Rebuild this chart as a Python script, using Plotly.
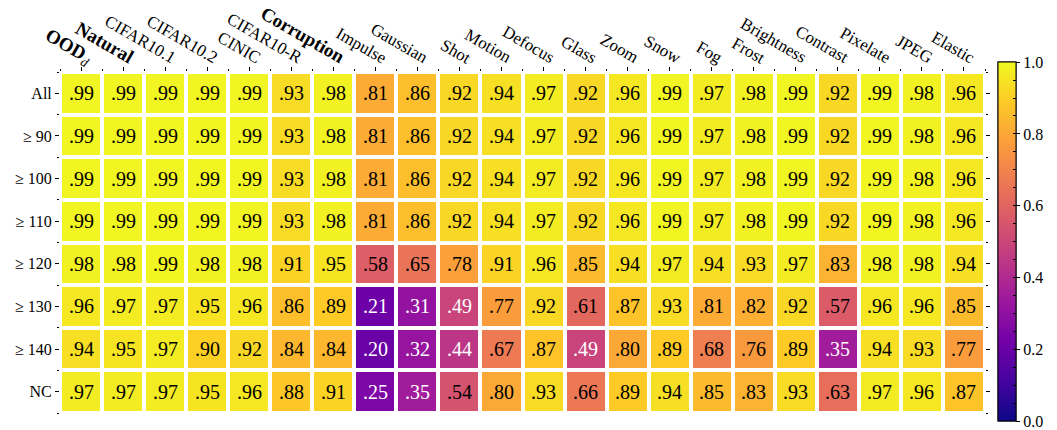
import plotly.graph_objects as go

# Column (dataset) labels and row (threshold) labels
columns = ["<b>OOD</b><sub><i>d</i></sub>", "<b>Natural</b>", "CIFAR10.1", "CIFAR10.2", "CINIC",
           "CIFAR10-R", "<b>Corruption</b>", "Impulse", "Gaussian", "Shot", "Motion",
           "Defocus", "Glass", "Zoom", "Snow", "Fog", "Frost", "Brightness",
           "Contrast", "Pixelate", "JPEG", "Elastic"]
rows = ["All", "≥ 90", "≥ 100", "≥ 110", "≥ 120", "≥ 130", "≥ 140", "NC"]

row_all = [.99, .99, .99, .99, .99, .93, .98, .81, .86, .92, .94, .97, .92, .96, .99, .97, .98, .99, .92, .99, .98, .96]
row_90 = [.99, .99, .99, .99, .99, .93, .98, .81, .86, .92, .94, .97, .92, .96, .99, .97, .98, .99, .92, .99, .98, .96]
row_100 = [.99, .99, .99, .99, .99, .93, .98, .81, .86, .92, .94, .97, .92, .96, .99, .97, .98, .99, .92, .99, .98, .96]
row_110 = [.99, .99, .99, .99, .99, .93, .98, .81, .86, .92, .94, .97, .92, .96, .99, .97, .98, .99, .92, .99, .98, .96]
row_120 = [.98, .98, .99, .98, .98, .91, .95, .58, .65, .78, .91, .96, .85, .94, .97, .94, .93, .97, .83, .98, .98, .94]
row_130 = [.96, .97, .97, .95, .96, .86, .89, .21, .31, .49, .77, .92, .61, .87, .93, .81, .82, .92, .57, .96, .96, .85]
row_140 = [.94, .95, .97, .90, .92, .84, .84, .20, .32, .44, .67, .87, .49, .80, .89, .68, .76, .89, .35, .94, .93, .77]
row_nc = [.97, .97, .97, .95, .96, .88, .91, .25, .35, .54, .80, .93, .66, .89, .94, .85, .83, .93, .63, .97, .96, .87]

z = [row_all, row_90, row_100, row_110, row_120, row_130, row_140, row_nc]

cbar_ticks = [0.0, 0.2, 0.4, 0.6, 0.8, 1.0]
cbar_labels = ["0.0", "0.2", "0.4", "0.6", "0.8", "1.0"]

FONT = "Liberation Serif"
nx, ny = len(columns), len(rows)
xs = list(range(nx))
ys = list(range(ny))

cbar_geom = dict(
    x=1.0145, xanchor="left", xpad=0,
    y=1.029, yanchor="top", ypad=0,
    len=359, lenmode="pixels",
    thickness=18, thicknessmode="pixels",
    outlinecolor="black", outlinewidth=1,
)

fig = go.Figure()
fig.add_trace(go.Heatmap(
    z=z, x=xs, y=ys,
    colorscale="Plasma", zmin=0, zmax=1,
    xgap=4, ygap=4,
    hoverinfo="skip",
    colorbar=dict(
        **cbar_geom,
        tickmode="array", tickvals=cbar_ticks, ticktext=cbar_labels,
        ticks="outside", ticklen=4, tickcolor="black",
        ticklabeloverflow="allow",
        tickfont=dict(family=FONT, size=16, color="black"),
    ),
))

# Second, unlabeled scale on top of the first to carry the fine inner ticks
fig.add_trace(go.Scatter(
    x=[None, None], y=[None, None], mode="markers", hoverinfo="skip",
    showlegend=False,
    marker=dict(color=[0, 1], colorscale="Plasma", cmin=0, cmax=1, showscale=True,
                colorbar=dict(**cbar_geom, tickmode="linear", tick0=0, dtick=0.05,
                              ticks="inside", ticklen=3, tickcolor="black",
                              showticklabels=False)),
))

# Cell value labels
for i, r in enumerate(z):
    for j, v in enumerate(r):
        fig.add_annotation(
            x=j, y=i, text=f"{v:.2f}"[1:], showarrow=False,
            font=dict(family=FONT, size=20, color="white" if v < 0.5 else "black"),
        )

# Slanted column headers, each ending just above its column
for j, name in enumerate(columns):
    bold = "<b>" in name
    fig.add_annotation(
        x=j, xref="x", y=1, yref="paper",
        text=name, textangle=30, showarrow=False,
        xanchor="right", yanchor="bottom",
        xshift=17, yshift=-1 if "<sub>" in name else 2,
        font=dict(family=FONT, size=19 if bold else 17, color="black"),
    )

fig.update_layout(
    width=1057, height=430,
    margin=dict(l=60, r=60, t=72, b=17),
    paper_bgcolor="white", plot_bgcolor="white",
    font=dict(family=FONT, color="black"),
)
fig.update_xaxes(
    side="top", range=[-0.5, nx - 0.5],
    tickmode="array", tickvals=xs, showticklabels=False,
    ticks="outside", ticklen=4, tickcolor="black",
    minor=dict(tickmode="array", tickvals=[k - 0.5 for k in range(nx + 1)],
               ticks="outside", ticklen=2, tickcolor="black"),
    showgrid=False, zeroline=False, showline=False,
)
fig.update_yaxes(
    range=[ny - 0.5, -0.5],
    tickmode="array", tickvals=ys, ticktext=rows,
    tickfont=dict(family=FONT, size=16, color="black"),
    ticks="outside", ticklen=4, tickcolor="black", mirror="ticks",
    minor=dict(tickmode="array", tickvals=[k - 0.5 for k in range(ny + 1)],
               ticks="outside", ticklen=2, tickcolor="black"),
    showgrid=False, zeroline=False, showline=False,
)

fig.write_html("out.html")
